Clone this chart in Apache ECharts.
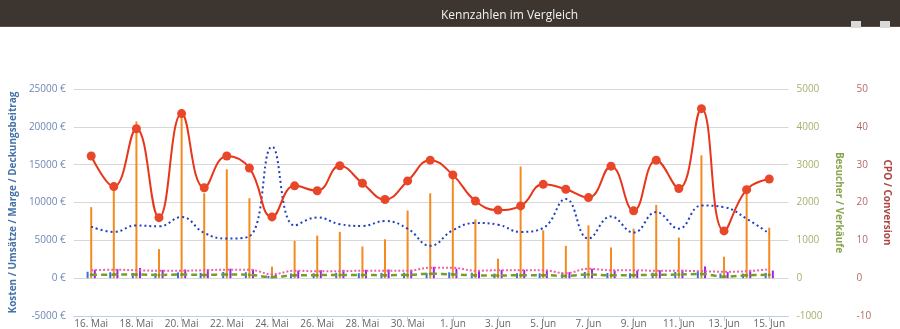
<!DOCTYPE html>
<html>
<head>
<meta charset="utf-8">
<script src="https://cdn.jsdelivr.net/npm/echarts@6/dist/echarts.min.js"></script>
<style>
html,body{margin:0;padding:0;background:#fff;}
#chart{width:900px;height:329px;}
</style>
</head>
<body>
<div id="chart"></div>
<script>
// ---- data ----
const chartTitle = 'Kennzahlen im Vergleich';
const categories = ['16. Mai','17. Mai','18. Mai','19. Mai','20. Mai','21. Mai','22. Mai','23. Mai','24. Mai','25. Mai','26. Mai','27. Mai','28. Mai','29. Mai','30. Mai','31. Mai',
  '1. Jun','2. Jun','3. Jun','4. Jun','5. Jun','6. Jun','7. Jun','8. Jun','9. Jun','10. Jun','11. Jun','12. Jun','13. Jun','14. Jun','15. Jun'];
const tickIndexes = [0,2,4,6,8,10,12,14,16,18,20,22,24,26,28,30];

const leftAxisName = 'Kosten / Umsätze / Marge / Deckungsbeitrag';
const midAxisName = 'Besucher / Verkäufe';
const rightAxisName = 'CPO / Conversion';

// Besucher (orange bars, Besucher axis)
const besucher = [1877,2443,4144,767,4260,2244,2880,2113,306,987,1126,1223,838,1029,1788,2244,2793,1552,516,2950,1264,856,1395,812,1309,1937,1073,3246,568,2443,1335];
// small bars (left axis)
const umsatzBars = [850,780,700,650,760,700,820,780,300,620,650,700,660,700,720,650,780,720,600,650,640,700,820,690,650,720,820,950,620,600,700];
const verkaufBars = [1100,1200,1350,1100,1150,1200,1250,1150,450,1000,1050,1100,1100,1150,1100,1500,1250,1050,1100,1100,1050,800,1250,1000,1000,1050,1100,1550,800,1100,1000];
// Kosten (blue dotted, left axis)
const kosten = [6806,6113,6976,6845,8076,5982,5236,5537,17369,6976,8024,7133,6898,7552,6545,4280,6322,7290,7068,6113,6636,10471,5236,8154,6021,8730,6545,9594,9385,7853,5890];
// Marge (pink dotted, left axis)
const marge = [1047,1113,1047,982,982,1047,1113,1113,524,982,916,916,982,982,982,1374,1374,982,1047,1047,1047,654,1243,1047,1047,982,982,916,851,916,1178];
// Deckungsbeitrag (green dashed, left axis)
const deckung = [450,470,500,420,480,430,500,440,150,380,400,420,410,400,420,600,500,380,350,400,400,300,500,380,400,450,480,550,200,380,450];
// CPO (red, CPO axis)
const cpo = [32.3,24.2,39.5,16.0,43.5,23.9,32.3,29.1,16.2,24.4,23.1,29.7,25.1,20.8,25.7,31.2,27.3,20.4,18.0,19.1,24.8,23.5,21.3,29.6,17.8,31.2,23.7,44.8,12.5,23.4,26.2];

const pairs = arr => arr.map((v,i)=>[i,v]);
const plain = v => String(v);

const FONT = 'Open Sans';
const chart = echarts.init(document.getElementById('chart'));
chart.setOption({
  animation:false,
  textStyle:{fontFamily:FONT},
  title:{text:chartTitle, left:436, top:5, textStyle:{color:'#f2f2f2', fontSize:12, fontWeight:'normal', fontFamily:FONT}},
  graphic:[
    {type:'rect', z:-1, shape:{x:0,y:0,width:900,height:27}, style:{fill:'#3d352f'}},
    {type:'rect', z:-1, shape:{x:0,y:26,width:900,height:1}, style:{fill:'#5a4f47'}},
    {type:'rect', shape:{x:851,y:21,width:10,height:7}, style:{fill:'#d9d9d9'}},
    {type:'rect', shape:{x:880,y:21,width:10,height:7}, style:{fill:'#d9d9d9'}}
  ],
  grid:{left:72, right:107, top:89, bottom:11},
  xAxis:{
    type:'value', min:-0.77, max:30.85,
    splitLine:{show:false},
    axisLine:{show:true, onZero:false, lineStyle:{color:'#C0D0E0', width:1}},
    axisTick:{show:true, length:5, customValues:tickIndexes, lineStyle:{color:'#C0D0E0'}},
    axisLabel:{customValues:tickIndexes, margin:3, color:'#666', fontSize:10, formatter:v=>categories[Math.round(v)]}
  },
  yAxis:[
    {type:'value', position:'left', min:-5000, max:25000, interval:5000,
     name:leftAxisName, nameLocation:'middle', nameGap:52,
     nameTextStyle:{color:'#4572A7', fontSize:10, fontWeight:'bold'},
     axisLine:{show:false}, axisTick:{show:false},
     axisLabel:{color:'#6f87b3', fontSize:10, margin:8, formatter:v=>plain(v)+' €'},
     splitLine:{show:true, lineStyle:{color:'#D8D8D8', width:1}}},
    {type:'value', position:'right', min:-1000, max:5000, interval:1000,
     name:midAxisName, nameLocation:'middle', nameGap:44, nameRotate:-90,
     nameTextStyle:{color:'#89A54E', fontSize:10, fontWeight:'bold'},
     axisLine:{show:false}, axisTick:{show:false},
     axisLabel:{color:'#a7b06c', fontSize:10, margin:8, formatter:plain},
     splitLine:{show:false}},
    {type:'value', position:'right', offset:60, min:-10, max:50, interval:10,
     name:rightAxisName, nameLocation:'middle', nameGap:30, nameRotate:-90,
     nameTextStyle:{color:'#AA4643', fontSize:10, fontWeight:'bold'},
     axisLine:{show:false}, axisTick:{show:false},
     axisLabel:{color:'#b06a68', fontSize:10, margin:8, formatter:plain},
     splitLine:{show:false}}
  ],
  series:[
    {name:'Umsätze', type:'bar', yAxisIndex:0, data:pairs(umsatzBars), barWidth:2, barGap:'80%', itemStyle:{color:'#3b6fe0'}},
    {name:'Besucher', type:'bar', yAxisIndex:1, data:pairs(besucher), barWidth:2, barGap:'80%', itemStyle:{color:'#f58a1f'}},
    {name:'Verkäufe', type:'bar', yAxisIndex:0, data:pairs(verkaufBars), barWidth:2, barGap:'80%', itemStyle:{color:'#a020f0'}},
    {name:'Deckungsbeitrag', type:'line', yAxisIndex:0, data:pairs(deckung), smooth:0.4,
     symbol:'circle', symbolSize:3, itemStyle:{color:'#6f9a2a'},
     lineStyle:{color:'#74a02a', width:2.5, type:[6,4]}},
    {name:'Marge', type:'line', yAxisIndex:0, data:pairs(marge), smooth:0.4, showSymbol:false,
     lineStyle:{color:'#ee5fa8', width:2, type:[2,2]}},
    {name:'Kosten', type:'line', yAxisIndex:0, data:pairs(kosten), smooth:0.45, showSymbol:false,
     lineStyle:{color:'#1f3fc0', width:2, type:[2,3]}},
    {name:'CPO', type:'line', yAxisIndex:2, data:pairs(cpo), smooth:0.45,
     symbol:'circle', symbolSize:9, itemStyle:{color:'#e8472a'},
     lineStyle:{color:'#e8361b', width:2}}
  ]
});
</script>
</body>
</html>
